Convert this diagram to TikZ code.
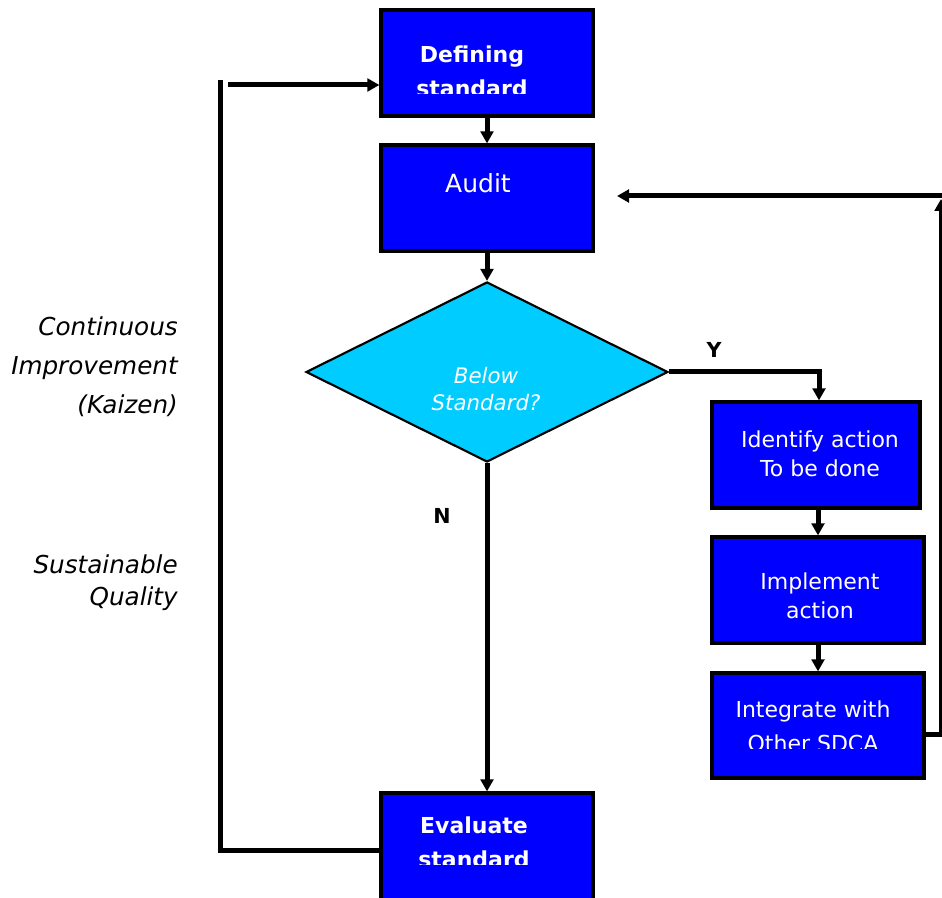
\documentclass[tikz,border=0pt]{standalone}
\usepackage{fontspec}
\setmainfont{DejaVu Sans}
\usetikzlibrary{shapes.geometric,arrows.meta}
\definecolor{boxblue}{HTML}{0000FF}
\definecolor{diacyan}{HTML}{00CCFF}
\begin{document}
\begin{tikzpicture}[x=0.75pt,y=-0.75pt,
  box/.style={rectangle, draw=black, line width=2.4pt, fill=boxblue, inner sep=0pt},
  conn/.style={line width=3.75pt, draw=black},
  arr/.style={conn, -{Triangle[length=9pt,width=9.5pt]}},
  wtext/.style={text=white, inner sep=0pt, align=center},
  regtext/.style={wtext, font=\fontsize{16.5}{21.75}\selectfont},
  boldtext/.style={wtext, font=\fontsize{16.5}{25.5}\selectfont\bfseries},
  ltext/.style={inner sep=0pt, align=right, text=black},
  yn/.style={inner sep=0pt, font=\fontsize{15.5}{18}\selectfont\bfseries}]
\useasboundingbox (0,0) rectangle (942,898);
\clip (0,0) rectangle (942,898);

% boxes
\node[box, minimum width=159pt, minimum height=79.5pt] (def) at (487,63) {};
\node[box, minimum width=159pt, minimum height=79.5pt] (aud) at (487,198) {};
\node[diamond, aspect=2.011, draw=black, line width=1.6pt, fill=diacyan, inner sep=0pt,
      minimum width=271.5pt, minimum height=135pt] (dia) at (487,372) {};
\node[box, minimum width=156pt, minimum height=79.5pt] (ident) at (816,455) {};
\node[box, minimum width=159pt, minimum height=79.5pt] (impl) at (818,590) {};
\node[box, minimum width=159pt, minimum height=78.75pt] (integ) at (818,725.5) {};
\node[box, minimum width=159pt, minimum height=85.5pt] (eval) at (487,850) {};

% texts
\begin{scope}
  \clip (381,10) rectangle (593,94);
  \node[boldtext, anchor=north] (deft) at (472,43.3) {\rule{0pt}{14pt}Defining\\standard};
\end{scope}
\node[wtext, anchor=base, font=\fontsize{18.75}{22}\selectfont] (audt) at (478,193) {Audit};
\node[wtext, anchor=north, font=\fontsize{16}{20.25}\selectfont\itshape] (diat) at (486,364.3) {\rule{0pt}{14pt}Below\\Standard?};
\node[regtext, anchor=north] (identt) at (820,428.3) {\rule{0pt}{14pt}Identify action\\To be done};
\node[regtext, anchor=north] (implt) at (820,570.3) {\rule{0pt}{14pt}Implement\\action};
\begin{scope}
  \clip (712,673) rectangle (924,748);
  \node[wtext, anchor=north, font=\fontsize{16.5}{25.5}\selectfont] (integt) at (813,698.3) {\rule{0pt}{14pt}Integrate with\\Other SDCA};
\end{scope}
\begin{scope}
  \clip (381,793) rectangle (593,864);
  \node[boldtext, anchor=north] (evalt) at (474,814.3) {\rule{0pt}{14pt}Evaluate\\standard};
\end{scope}

\node[ltext, anchor=north east, font=\fontsize{18.5}{29.25}\selectfont\itshape] (ci) at (178,315) {\rule{0pt}{15pt}Continuous\\Improvement\\(Kaizen)};
\node[ltext, anchor=north east, font=\fontsize{18.5}{24}\selectfont\itshape] (sq) at (178,553) {\rule{0pt}{15pt}Sustainable\\Quality};

\node[yn] (ylab) at (714,350) {Y};
\node[yn] (nlab) at (442,516) {N};

% connectors
\draw[arr] (def.south) -- (aud.north);
\draw[arr] (aud.south) -- (dia.north);
\draw[arr] (dia.south) -- (eval.north);
\coordinate (yc) at (819,372);
\draw[arr] (dia.east) -- (yc) -- (yc |- ident.north);
\draw[arr] (impl.north |- ident.south) -- (impl.north);
\draw[arr] (impl.south) -- (integ.north);
\coordinate (rb) at (941,734);
\coordinate (rt) at (941,199);
\draw[arr] (integ.east |- rb) -- (rb) -- (rt);
\coordinate (rs) at (944,196);
\coordinate (ae) at (617,196);
\draw[arr] (rs) -- (ae);
\coordinate (lb) at (220,850);
\coordinate (lt) at (220,80);
\draw[conn] (eval.west) -- (lb) -- (lt);
\coordinate (la) at (228,85);
\draw[arr] (la) -- (la -| def.west);
\end{tikzpicture}
\end{document}
